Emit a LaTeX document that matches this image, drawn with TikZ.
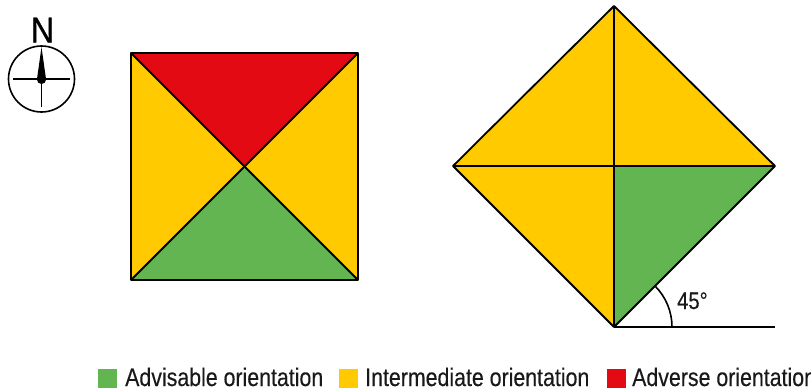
\documentclass[tikz,border=0pt]{standalone}
\usepackage{fontspec}
\setmainfont[FakeStretch=0.84,FakeBold=0.25]{Liberation Sans}
\newfontfamily\northfont[FakeStretch=0.9,FakeBold=0.7]{Liberation Sans}
\definecolor{advgreen}{HTML}{63B551}
\definecolor{intyellow}{HTML}{FFCB00}
\definecolor{adred}{HTML}{E30A13}
\tikzset{
  tri/.style={draw=black,line width=1.8pt,line join=round},
  swatch/.style={minimum width=19pt,minimum height=19pt,inner sep=0pt,anchor=west},
  legend/.style={font=\fontsize{25.4}{25.4}\selectfont,anchor=base west,inner sep=0pt,text=black!90},
  compass/.style={draw=black,line width=1.6pt}
}
\begin{document}
\begin{tikzpicture}[x=1pt,y=-1pt]
\useasboundingbox (0,0) rectangle (811,391);
% Square
\coordinate (a) at (131,53);
\coordinate (b) at (358,53);
\coordinate (c) at (358,280);
\coordinate (d) at (131,280);
\coordinate (m) at (244.5,166.5);
\fill[adred] (a)--(b)--(m)--cycle;
\fill[advgreen] (d)--(c)--(m)--cycle;
\fill[intyellow] (a)--(d)--(m)--cycle;
\fill[intyellow] (b)--(c)--(m)--cycle;
\draw[tri] (a)--(b)--(c)--(d)--cycle;
\draw[tri] (a)--(c);
\draw[tri] (b)--(d);
% Diamond
\coordinate (t) at (614,6);
\coordinate (r) at (775,166);
\coordinate (u) at (614,327);
\coordinate (l) at (453,166);
\coordinate (k) at (614,166);
\fill[intyellow] (t)--(r)--(u)--(l)--cycle;
\fill[advgreen] (k)--(r)--(u)--cycle;
\draw[tri] (t)--(r)--(u)--(l)--cycle;
\draw[tri] (t)--(u);
\draw[tri] (l)--(r);
% Angle
\coordinate (e) at (775,327);
\draw[line width=2.2pt] (u)--(e);
\draw[line width=1.6pt] (672,327) arc[start angle=0,end angle=-45,radius=58];
\node[font=\fontsize{24}{24}\selectfont,anchor=base west,inner sep=0pt,text=black!90] (ang) at (677,309) {45°};
% Compass
\coordinate (cc) at (41.5,79);
\draw[compass] (cc) circle[radius=33];
\draw[line width=1.5pt] (13,79)--(70,79);
\draw[line width=1.5pt] (41.5,79)--(41.5,107);
\fill[black] (41.5,47) -- (46,79) arc[start angle=0,end angle=180,radius=4.5] -- cycle;
\fill[black] (41.5,79.5) circle[radius=4.5];
\node[font=\northfont\fontsize{36}{36}\selectfont,anchor=base,inner sep=0pt] (north) at (42.5,42.5) {N};
% Legend
\node[swatch,fill=advgreen] (s1) at (98,378.5) {};
\node[legend] (t1) at (125,386) {Advisable orientation};
\node[swatch,fill=intyellow] (s2) at (339,378.5) {};
\node[legend] (t2) at (365,386) {Intermediate orientation};
\node[swatch,fill=adred] (s3) at (607,378.5) {};
\node[legend] (t3) at (632,386) {Adverse orientation};
\end{tikzpicture}
\end{document}
